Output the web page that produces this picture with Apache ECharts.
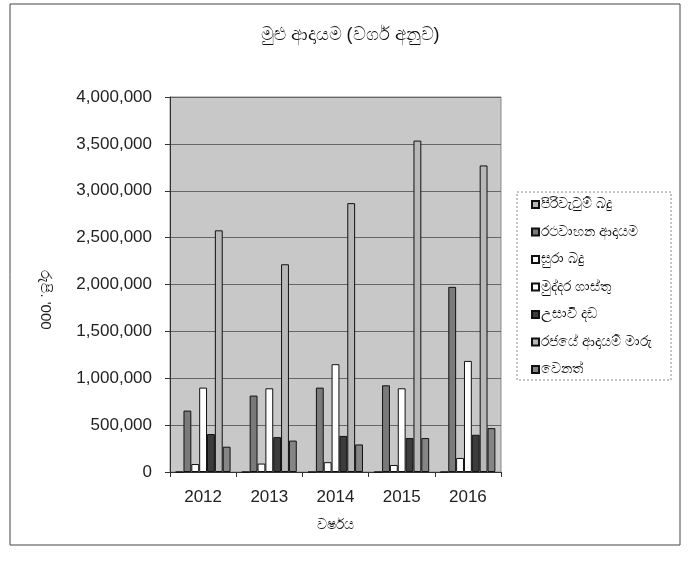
<!DOCTYPE html>
<html>
<head>
<meta charset="utf-8">
<script src="https://cdn.jsdelivr.net/npm/echarts@6/dist/echarts.min.js"></script>
<style>
	html, body { margin: 0; padding: 0; background: #fff; }
	#chart { width: 690px; height: 566px; }
</style>
</head>
<body>
<div id="chart"></div>
<script>
// years on the x axis
var years = ["2012", "2013", "2014", "2015", "2016"];

// revenue by type, Rs. '000
var pirivatumBadu = [0, 0, 0, 0, 0];
var rathavahanaAdayama = [655000, 815000, 900000, 925000, 1975000];
var suraBadu = [85000, 90000, 105000, 75000, 150000];
var muddaraGasthu = [900000, 893000, 1150000, 893000, 1185000];
var usaviDada = [405000, 372000, 385000, 362000, 397000];
var rajayeAdayamMaru = [2578000, 2216000, 2868000, 3535000, 3270000];
var wenath = [270000, 335000, 294000, 362000, 468000];

var seriesNames = [
	"පිරිවැටුම් බදු",
	"රථවාහන ආදායම",
	"සුරා බදු",
	"මුද්දර ගාස්තු",
	"උසාවි දඩ",
	"රජයේ ආදායම් මාරු",
	"වෙනත්"
];
var seriesData = [pirivatumBadu, rathavahanaAdayama, suraBadu, muddaraGasthu, usaviDada, rajayeAdayamMaru, wenath];
var fills = ["#b8b8b8", "#7a7a7a", "#ffffff", "#ffffff", "#3c3c3c", "#b8b8b8", "#858585"];

var font = "'Liberation Sans', Arial, 'Noto Sans', sans-serif";

(function() {
	var myChart = echarts.init(document.getElementById("chart"));

	var series = seriesNames.map(function(name, i) {
		return {
			name: name,
			type: "bar",
			data: seriesData[i],
			barGap: "0%",
			barCategoryGap: "17%",
			itemStyle: { color: fills[i], borderColor: "#111", borderWidth: 1 }
		};
	});

	var option = {
		animation: false,
		backgroundColor: "#fff",
		title: {
			text: "මුළු ආදායම (වර්ග අනුව)",
			top: 21,
			left: 345,
			textAlign: "center",
			textStyle: { fontSize: 18, fontWeight: "normal", color: "#111", fontFamily: font }
		},
		legend: {
			orient: "vertical",
			left: 531,
			top: 196,
			padding: 0,
			itemWidth: 7,
			itemHeight: 7,
			itemGap: 10.5,
			icon: "rect",
			textStyle: { fontSize: 14, lineHeight: 17, color: "#111", fontFamily: font, padding: [0, 0, 0, -3] }
		},
		grid: {
			left: 170,
			right: 189,
			top: 97,
			bottom: 94,
			show: true,
			backgroundColor: "#c8c8c8",
			borderColor: "#888",
			borderWidth: 1
		},
		xAxis: {
			type: "category",
			data: years,
			name: "වර්ෂය",
			nameLocation: "middle",
			nameGap: 46,
			nameTextStyle: { fontSize: 14, color: "#111", fontFamily: font },
			axisLine: { lineStyle: { color: "#333" } },
			axisTick: { show: true, length: 5, lineStyle: { color: "#333" } },
			axisLabel: { fontSize: 17, color: "#222", margin: 17, fontFamily: font }
		},
		yAxis: {
			type: "value",
			min: 0,
			max: 4000000,
			interval: 500000,
			axisLine: { show: true, lineStyle: { color: "#333" } },
			axisTick: { show: true, length: 5, lineStyle: { color: "#333" } },
			axisLabel: {
				fontSize: 17,
				color: "#222",
				margin: 18,
				fontFamily: font,
				formatter: function(v) { return v.toLocaleString("en-US"); }
			},
			splitLine: { lineStyle: { color: "#666", width: 1 } }
		},
		graphic: [
			{
				type: "rect",
				shape: { x: 10, y: 4, width: 670, height: 541 },
				style: { fill: null, stroke: "#444", lineWidth: 1 },
				silent: true
			},
			{
				type: "rect",
				shape: { x: 517, y: 192, width: 154, height: 188 },
				style: { fill: null, stroke: "#888", lineWidth: 1, lineDash: [2, 2] },
				silent: true
			},
			{
				// y axis name
				type: "text",
				x: 45,
				y: 300,
				rotation: -Math.PI / 2,
				style: {
					text: "රුපි. '000",
					fontSize: 15,
					fill: "#222",
					fontFamily: font,
					align: "center",
					verticalAlign: "middle"
				},
				silent: true
			}
		],
		series: series
	};

	myChart.setOption(option);

	window.addEventListener("resize", function() {
		myChart.resize();
	});
})();
</script>
</body>
</html>
